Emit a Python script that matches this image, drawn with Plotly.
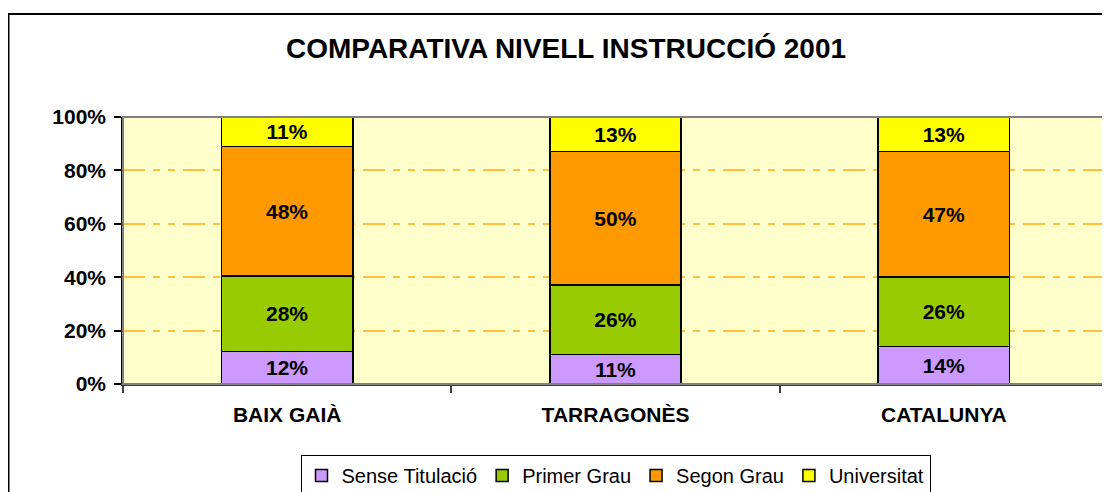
import plotly.graph_objects as go

categories = ["BAIX GAIÀ", "TARRAGONÈS", "CATALUNYA"]
series_names = ["Sense Titulació", "Primer Grau", "Segon Grau", "Universitat"]
sense_titulacio = [12, 11, 14]
primer_grau = [28, 26, 26]
segon_grau = [48, 50, 47]
universitat = [11, 13, 13]
y_tick_vals = [0, 20, 40, 60, 80, 100]
y_tick_text = ["0%", "20%", "40%", "60%", "80%", "100%"]

series_values = [sense_titulacio, primer_grau, segon_grau, universitat]
colors = ["#CC99FF", "#99CC00", "#FF9900", "#FFFF00"]

# page body has an 8px margin; figure coords = screen coords - 8
OFF = 8
W, H = 1110 - OFF, 492 - OFF
ML, MT = 123 - OFF, 117 - OFF
PR, PB = 1108 - OFF, 384 - OFF
MR, MB = W - PR, H - PB
PW, PH = W - ML - MR, H - MT - MB

def px_to_paper_x(sx):
    return (sx - OFF - ML) / PW

def px_to_paper_y(sy):
    return (PB - (sy - OFF)) / PH

fig = go.Figure()
for name, vals, col in zip(series_names, series_values, colors):
    fig.add_trace(go.Bar(
        x=categories, y=vals, name=name,
        marker=dict(color=col, line=dict(color="#000000", width=1.5)),
        text=[f"{v}%" for v in vals],
        textposition="inside", insidetextanchor="middle", textangle=0,
        textfont=dict(family="Liberation Sans, Arial", size=21, color="#000000", weight="bold"),
        constraintext="none",
        hoverinfo="skip",
    ))

font_b = dict(family="Liberation Sans, Arial", size=21, color="#000000", weight="bold")

fig.update_layout(
    width=W, height=H,
    barmode="stack", barnorm="percent", bargap=0.6,
    paper_bgcolor="#FFFFFF", plot_bgcolor="#FFFFCC",
    margin=dict(l=ML, r=MR, t=MT, b=MB, pad=0, autoexpand=False),
    title=dict(text="<b>COMPARATIVA NIVELL INSTRUCCIÓ 2001</b>",
               font=dict(family="Liberation Sans, Arial", size=28, color="#000000"),
               x=(566 - OFF) / W, xanchor="center", xref="container",
               y=1 - (48 - OFF) / H, yanchor="middle", yref="container"),
    showlegend=True,
    legend=dict(orientation="h", x=0.5, xanchor="center",
                y=px_to_paper_y(455), yanchor="top",
                font=dict(family="Liberation Sans, Arial", size=20, color="#000000"),
                bordercolor="#000000", borderwidth=1, bgcolor="#FFFFFF",
                itemwidth=30, traceorder="normal"),
    xaxis=dict(type="category", showline=True, linecolor="#404040", linewidth=2,
               ticks="outside", tickson="boundaries", ticklen=7, tickcolor="#404040",
               tickwidth=1.5, tickfont=font_b, ticklabelstandoff=11,
               showgrid=False, fixedrange=True),
    yaxis=dict(range=[0, 100], tickvals=y_tick_vals, ticktext=y_tick_text,
               showline=True, linecolor="#000000", linewidth=1.5,
               ticks="outside", ticklen=7, tickcolor="#000000", tickwidth=1.5,
               tickfont=font_b, ticklabelstandoff=4,
               showgrid=True, gridcolor="#FFC040", gridwidth=2,
               griddash="22px,8px,7px,8px,7px,8px", zeroline=False, fixedrange=True),
    shapes=[
        dict(type="rect", xref="paper", yref="paper", x0=0, x1=1, y0=0, y1=1,
             line=dict(color="#808080", width=2), fillcolor="rgba(0,0,0,0)", layer="above"),
        dict(type="rect", xref="paper", yref="paper",
             x0=px_to_paper_x(8.5), x1=px_to_paper_x(1200),
             y0=px_to_paper_y(600), y1=px_to_paper_y(14),
             line=dict(color="#000000", width=2), fillcolor="rgba(0,0,0,0)", layer="above"),
    ],
)

fig.write_html("out.html")
